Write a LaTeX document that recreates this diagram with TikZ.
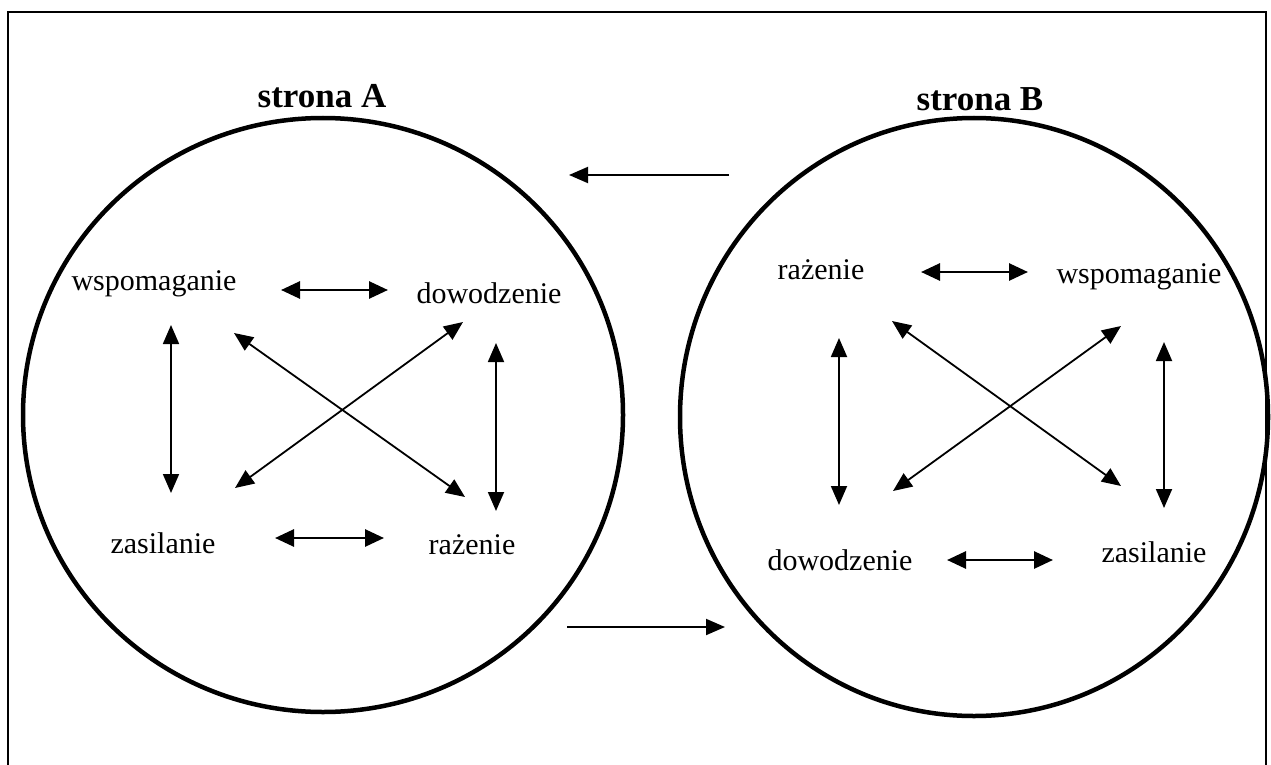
\documentclass[tikz,border=0pt]{standalone}
\usepackage{fontspec}
\setmainfont{Liberation Serif}
\usetikzlibrary{arrows.meta}
\tikzset{
  lbl/.style={font=\fontsize{30}{36}\selectfont, inner sep=0pt},
  ttl/.style={font=\bfseries\fontsize{35}{42}\selectfont, inner sep=0pt},
  dbl/.style={{Triangle[length=19pt,width=17pt]}-{Triangle[length=19pt,width=17pt]}, line width=2.8pt},
  dblthin/.style={{Triangle[length=19pt,width=16pt]}-{Triangle[length=19pt,width=16pt]}, line width=1.8pt},
  sgl/.style={-{Triangle[length=19pt,width=16pt]}, line width=1.9pt},
  side/.style={line width=4.5pt},
  frame/.style={line width=1.8pt}
}
\begin{document}
\begin{tikzpicture}[x=1pt,y=-1pt]
\useasboundingbox (0,0) rectangle (1271,765);
\fill[white] (0,0) rectangle (1271,765);
\draw[frame] (8,765) -- (8,12) -- (1266,12) -- (1266,765);

% sides
\draw[side] (323,415) ellipse [x radius=300, y radius=297];
\draw[side] (974,417) ellipse [x radius=294, y radius=299];
\node[ttl] (tA) at (322,96) {strona A};
\node[ttl] (tB) at (980,99) {strona B};

% side A labels
\node[lbl] (aw) at (154,284) {wspomaganie};
\node[lbl] (ad) at (489,293) {dowodzenie};
\node[lbl] (az) at (163,543) {zasilanie};
\node[lbl] (ar) at (472,545) {rażenie};

% side B labels
\node[lbl] (br) at (821,270) {rażenie};
\node[lbl] (bw) at (1139,277) {wspomaganie};
\node[lbl] (bd) at (840,560) {dowodzenie};
\node[lbl] (bz) at (1154,552) {zasilanie};

% arrow end points A
\coordinate (a1) at (281,290); \coordinate (a2) at (388,290);
\coordinate (a3) at (275,538); \coordinate (a4) at (384,538);
\coordinate (a5) at (171,325); \coordinate (a6) at (171,493);
\coordinate (a7) at (496,343); \coordinate (a8) at (496,511);
\coordinate (a9) at (234,333); \coordinate (a10) at (465,497);
\coordinate (a11) at (463,322); \coordinate (a12) at (235,488);

% arrow end points B
\coordinate (b1) at (921,272); \coordinate (b2) at (1028,272);
\coordinate (b3) at (947,560); \coordinate (b4) at (1053,560);
\coordinate (b5) at (839,338); \coordinate (b6) at (839,505);
\coordinate (b7) at (1164,342); \coordinate (b8) at (1164,508);
\coordinate (b9) at (892,321); \coordinate (b10) at (1121,486);
\coordinate (b11) at (1121,326); \coordinate (b12) at (893,491);

% between sides
\coordinate (t1) at (729,175); \coordinate (t2) at (569,175);
\coordinate (u1) at (567,627); \coordinate (u2) at (725,627);

\draw[dbl] (a1) -- (a2);
\draw[dbl] (a3) -- (a4);
\draw[dblthin] (a5) -- (a6);
\draw[dblthin] (a7) -- (a8);
\draw[dblthin] (a9) -- (a10);
\draw[dblthin] (a11) -- (a12);

\draw[dbl] (b1) -- (b2);
\draw[dbl] (b3) -- (b4);
\draw[dblthin] (b5) -- (b6);
\draw[dblthin] (b7) -- (b8);
\draw[dblthin] (b9) -- (b10);
\draw[dblthin] (b11) -- (b12);

\draw[sgl] (t1) -- (t2);
\draw[sgl] (u1) -- (u2);
\end{tikzpicture}
\end{document}
